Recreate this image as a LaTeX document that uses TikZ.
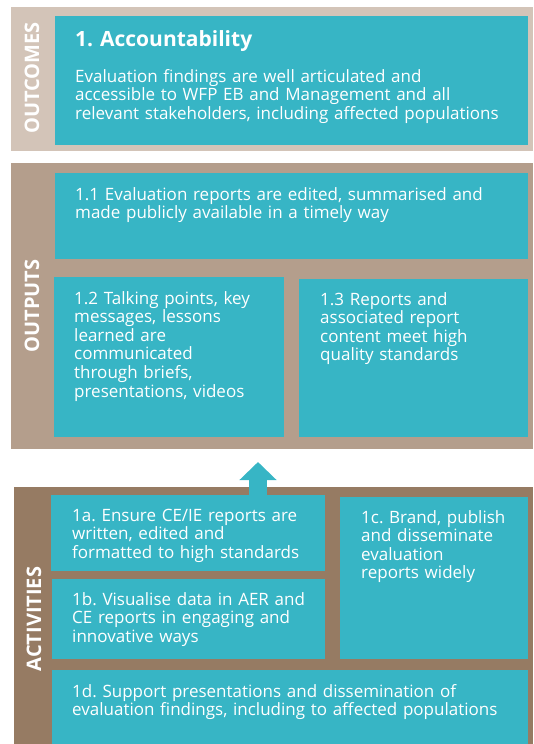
\documentclass[tikz,border=0pt]{standalone}
\usepackage{fontspec}
\setmainfont{Open Sans}
\usetikzlibrary{arrows.meta,positioning}
\frenchspacing

\definecolor{wfpteal}{RGB}{55,181,197}
\definecolor{outcomeband}{RGB}{211,196,184}
\definecolor{outputband}{RGB}{180,158,140}
\definecolor{activityband}{RGB}{150,123,99}

\tikzstyle{band} = [rectangle, inner sep=0pt, anchor=north west]
\tikzstyle{cell} = [rectangle, fill=wfpteal, inner sep=0pt, anchor=north west]
\tikzstyle{txt} = [text=white, font=\fontsize{17}{18.6}\selectfont, align=left,
    inner sep=0pt, anchor=base west, text width=455pt]
\tikzstyle{side} = [text=white, font=\fontsize{20}{24}\selectfont\bfseries,
    rotate=90, inner sep=0pt]

\begin{document}
\begin{tikzpicture}[x=1pt,y=-1pt]
  \useasboundingbox (0,0) rectangle (533,744);

  % outcomes
  \node[band, fill=outcomeband, minimum width=522pt, minimum height=144pt] (outcomes) at (11,7) {};
  \node[cell, minimum width=473pt, minimum height=129pt] (acc) at (55,16) {};
  \node[side] (outlbl) at (32,78) {OUTCOMES};
  \node[txt, font=\fontsize{21}{25}\selectfont\bfseries] (acctitle) at (75,46) {1. Accountability};
  \node[txt] (acctext) at (75,82) {Evaluation findings are well articulated and\\
    accessible to WFP EB and Management and all\\
    relevant stakeholders, including affected populations};

  % outputs
  \node[band, fill=outputband, minimum width=522pt, minimum height=286pt] (outputs) at (11,163) {};
  \node[cell, minimum width=473pt, minimum height=86pt] (o11) at (55,173) {};
  \node[cell, minimum width=230pt, minimum height=160pt] (o12) at (54,277) {};
  \node[cell, minimum width=229pt, minimum height=158pt] (o13) at (299,279) {};
  \node[side] (outplbl) at (32,306) {OUTPUTS};
  \node[txt] (t11) at (75,200) {1.1 Evaluation reports are edited, summarised and\\
    made publicly available in a timely way};
  \node[txt, text width=205pt] (t12) at (74,304) {1.2 Talking points, key\\
    messages, lessons\\ learned are\\ communicated\\ through briefs,\\
    presentations, videos};
  \node[txt, text width=205pt] (t13) at (320,305) {1.3 Reports and\\
    associated report\\ content meet high\\ quality standards};

  % activities
  \node[band, fill=activityband, minimum width=519pt, minimum height=257pt] (activities) at (14,487) {};
  \node[cell, minimum width=274pt, minimum height=76pt] (a1) at (51,495) {};
  \node[cell, minimum width=273pt, minimum height=80pt] (b1) at (52,579) {};
  \node[cell, minimum width=188pt, minimum height=162pt] (c1) at (340,497) {};
  \node[cell, minimum width=476pt, minimum height=74pt] (d1) at (52,670) {};
  \node[side] (actlbl) at (34,619) {ACTIVITIES};
  \node[txt, text width=250pt] (ta) at (72,521) {1a. Ensure CE/IE reports are\\
    written, edited and\\ formatted to high standards};
  \node[txt, text width=250pt] (tb) at (72,605) {1b. Visualise data in AER and\\
    CE reports in engaging and\\ innovative ways};
  \node[txt, text width=165pt] (tc) at (361,523) {1c. Brand, publish\\
    and disseminate\\ evaluation\\ reports widely};
  \node[txt] (td) at (72,697) {1d. Support presentations and dissemination of\\
    evaluation findings, including to affected populations};

  % arrow from activities up to outputs
  \coordinate (tip) at (258,462);
  \draw[wfpteal, line width=18pt, -{Triangle[width=36pt,length=18pt]}] (tip |- a1.north) -- (tip);
\end{tikzpicture}
\end{document}
